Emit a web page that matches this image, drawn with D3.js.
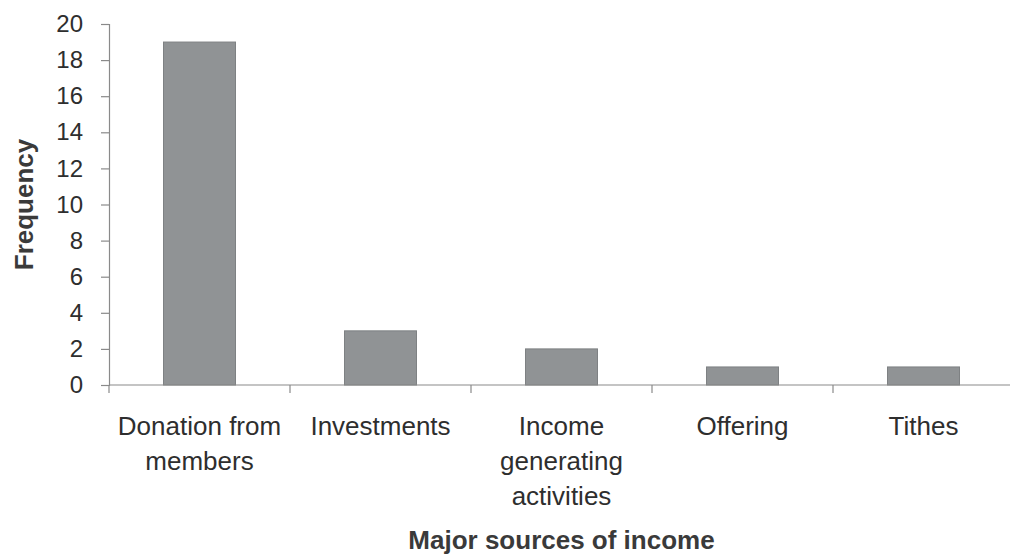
<!DOCTYPE html>
<html>
<head>
<meta charset="utf-8">
<script src="https://cdn.jsdelivr.net/npm/d3@7"></script>
<style>
  html, body { margin: 0; padding: 0; background: #fff; }
  svg { display: block; font-family: "Liberation Sans", Arial, sans-serif; }
</style>
</head>
<body>
<svg id="chart" width="1010" height="554"></svg>
<script>
const categories = [["Donation from", "members"], ["Investments"], ["Income", "generating", "activities"], ["Offering"], ["Tithes"]];
const categoryKeys = ["Donation from members", "Investments", "Income generating activities", "Offering", "Tithes"];
const frequency = [19, 3, 2, 1, 1];
const yTicks = [0, 2, 4, 6, 8, 10, 12, 14, 16, 18, 20];
const yTitle = "Frequency";
const xTitle = "Major sources of income";

(function () {
const svg = d3.select("#chart");
const mLeft = 109, mRight = 1014, mTop = 24, mBottom = 385;
const textColor = "#2e2e2e", axisColor = "#8a8a8a";

const xStep = d3.scaleBand().domain(categoryKeys).range([mLeft, mRight]);
const y = d3.scaleLinear().domain([0, 20]).range([mBottom, mTop]);
const barW = 72;

// bars
svg.append("g").selectAll("rect")
  .data(categoryKeys)
  .join("rect")
  .attr("x", d => xStep(d) + xStep.bandwidth() / 2 - barW / 2)
  .attr("width", barW)
  .attr("y", (d, i) => y(frequency[i]))
  .attr("height", (d, i) => y(0) - y(frequency[i]))
  .attr("fill", "#909395")
  .attr("stroke", "#7e8183")
  .attr("stroke-width", 1);

// y axis
const yAxis = svg.append("g")
  .attr("transform", `translate(${mLeft},0)`)
  .call(d3.axisLeft(y).tickValues(yTicks).tickSize(8).tickPadding(18).tickFormat(d3.format("d")));
yAxis.select(".domain").attr("stroke", axisColor).attr("stroke-width", 1.2);
yAxis.selectAll(".tick line").attr("stroke", axisColor).attr("stroke-width", 1.2);
yAxis.selectAll(".tick text").attr("fill", textColor).attr("font-size", 24)
  .attr("font-family", "Liberation Sans, Arial, sans-serif");

// x axis
const xAxis = svg.append("g")
  .attr("transform", `translate(0,${mBottom})`)
  .call(d3.axisBottom(xStep).tickSize(0).tickFormat(""));
xAxis.select(".domain").attr("stroke", axisColor).attr("stroke-width", 1.2)
  .attr("d", `M${mLeft},0H1010`);
// band boundary ticks
const bounds = categoryKeys.map(d => xStep(d));
xAxis.selectAll("line.bound").data(bounds).join("line")
  .attr("class", "bound")
  .attr("x1", d => d).attr("x2", d => d)
  .attr("y1", 0).attr("y2", 8)
  .attr("stroke", axisColor).attr("stroke-width", 1.2);

// category labels
const labels = svg.append("g").selectAll("text")
  .data(categoryKeys)
  .join("text")
  .attr("x", d => xStep(d) + xStep.bandwidth() / 2)
  .attr("y", 435)
  .attr("text-anchor", "middle")
  .attr("fill", textColor)
  .attr("font-size", 26);
labels.each(function (d, i) {
  d3.select(this).selectAll("tspan")
    .data(categories[i])
    .join("tspan")
    .attr("x", xStep(d) + xStep.bandwidth() / 2)
    .attr("dy", (t, j) => j === 0 ? 0 : 35)
    .text(t => t);
});

// axis titles
svg.append("text")
  .attr("transform", `translate(33,${(mTop + mBottom) / 2}) rotate(-90)`)
  .attr("text-anchor", "middle")
  .attr("font-size", 26)
  .attr("font-weight", "bold")
  .attr("fill", "#3a3a3a")
  .text(yTitle);

svg.append("text")
  .attr("x", (mLeft + mRight) / 2)
  .attr("y", 549)
  .attr("text-anchor", "middle")
  .attr("font-size", 26)
  .attr("font-weight", "bold")
  .attr("fill", "#3a3a3a")
  .text(xTitle);
})();
</script>
</body>
</html>
